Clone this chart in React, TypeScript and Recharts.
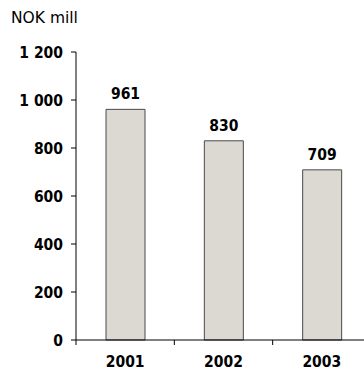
import { BarChart, Bar, XAxis, YAxis, LabelList } from "recharts";

const years = ["2001", "2002", "2003"];
const amounts = [961, 830, 709];
const yTicks = [0, 200, 400, 600, 800, 1000, 1200];

const data = years.map((year, i) => ({ year, amount: amounts[i] }));

const CHART_W = 371;
const AXIS_W = 76;
const BAND = (CHART_W - AXIS_W) / years.length;
const FONT = "'DejaVu Sans', Verdana, sans-serif";
const BOLD_FONT = "'DejaVu Sans Condensed', 'DejaVu Sans', sans-serif";

const fmt = (v: number) => String(v).replace(/\B(?=(\d{3})+(?!\d))/g, " ");

const boldText = { fontFamily: BOLD_FONT, fontWeight: "bold", fontSize: 15.5, fill: "#000" };

function YearTick(props: any) {
  const { x, y, payload } = props;
  const left = x - BAND / 2;
  return (
    <g>
      <line x1={left} y1={y - 8} x2={left} y2={y - 3} stroke="#000" />
      <text x={x} y={y + 19} textAnchor="middle" {...boldText}>
        {payload.value}
      </text>
    </g>
  );
}

export default function App() {
  return (
    <div
      style={{
        position: "absolute",
        left: 0,
        top: 0,
        width: 364,
        height: 370,
        overflow: "hidden",
        background: "#fff",
      }}
    >
      <div
        style={{
          position: "absolute",
          left: 11,
          top: 9,
          lineHeight: "18px",
          fontFamily: FONT,
          fontSize: 15.5,
          color: "#000",
        }}
      >
        NOK mill
      </div>
      <BarChart
        width={CHART_W}
        height={370}
        data={data}
        margin={{ top: 52, right: 0, bottom: 0, left: 0 }}
      >
        <YAxis
          width={AXIS_W}
          domain={[0, 1200]}
          ticks={yTicks}
          interval={0}
          tickFormatter={fmt}
          axisLine={{ stroke: "#000" }}
          tickLine={{ stroke: "#000" }}
          tickSize={5}
          tickMargin={8}
          tick={boldText}
        />
        <XAxis
          dataKey="year"
          height={30}
          axisLine={{ stroke: "#000" }}
          tickLine={false}
          tick={<YearTick />}
          interval={0}
        />
        <Bar
          dataKey="amount"
          fill="#DCD9D3"
          stroke="#4a4a4a"
          strokeWidth={1}
          barSize={39}
          isAnimationActive={false}
        >
          <LabelList dataKey="amount" position="top" offset={10} style={boldText} />
        </Bar>
      </BarChart>
    </div>
  );
}
